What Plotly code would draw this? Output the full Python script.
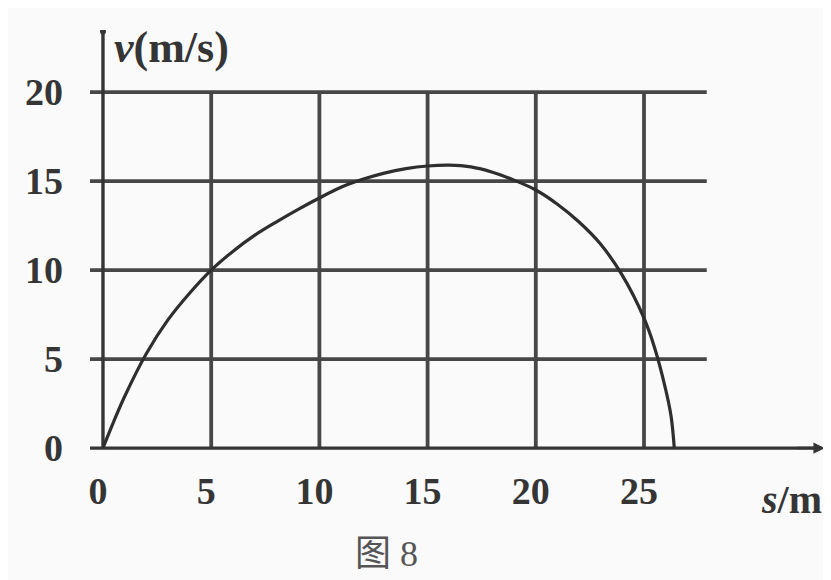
import plotly.graph_objects as go

# Data
s_vals = [0, 0.5, 1, 2, 3, 4, 5, 6, 7, 8, 9, 10, 11, 12, 13, 14, 15, 16, 17, 18, 19, 20,
          21, 22, 23, 24, 25, 25.5, 26, 26.25, 26.4]
v_vals = [0, 1.5, 2.9, 5.3, 7.2, 8.7, 10.0, 11.05, 11.95, 12.7, 13.4, 14.05, 14.65, 15.1,
          15.45, 15.7, 15.85, 15.9, 15.8, 15.5, 15.05, 14.5, 13.7, 12.7, 11.45, 9.7, 7.3,
          5.6, 3.3, 1.8, 0]
x_ticks = [0, 5, 10, 15, 20, 25]
y_ticks = [0, 5, 10, 15, 20]
x_tick_text = ["0", "5", "10", "15", "20", "25"]
y_tick_text = ["0", "5", "10", "15", "20"]

INK = "#353535"
GRID = "#474747"
BG = "#fafafa"
FONT = "Liberation Serif"

fig = go.Figure()
fig.add_trace(go.Scatter(x=s_vals, y=v_vals, mode="lines",
                         line=dict(color="#2e2e2e", width=3.2, shape="spline", smoothing=1.0),
                         hoverinfo="skip", showlegend=False))

shapes = []
for yv in y_ticks[1:]:
    shapes.append(dict(type="line", xref="x", yref="y", x0=-0.6, x1=27.9, y0=yv, y1=yv,
                       line=dict(color=GRID, width=3.8), layer="below"))
for xv in x_ticks[1:]:
    shapes.append(dict(type="line", xref="x", yref="y", x0=xv, x1=xv, y0=0, y1=20,
                       line=dict(color=GRID, width=3.8), layer="below"))
shapes.append(dict(type="line", xref="x", yref="y", x0=0, x1=0, y0=0, y1=23.4,
                   line=dict(color=INK, width=3.4), layer="below"))
shapes.append(dict(type="line", xref="x", yref="y", x0=-0.6, x1=33.0, y0=0, y1=0,
                   line=dict(color=INK, width=3.4), layer="below"))

annotations = [
    dict(x=33.35, y=0, ax=32.0, ay=0, xref="x", yref="y", axref="x", ayref="y",
         showarrow=True, arrowhead=2, arrowsize=0.9, arrowwidth=2.5, arrowcolor=INK, text=""),
    dict(x=0.4, y=22.5, xref="x", yref="y", xanchor="left", yanchor="middle",
         text="<i>v</i>(m/s)", showarrow=False,
         font=dict(family=FONT, size=44, color=INK, weight="bold")),
    dict(x=0.997, y=-0.093, xref="paper", yref="paper", xanchor="right", yanchor="middle",
         text="<i>s</i>/m", showarrow=False,
         font=dict(family=FONT, size=40, color=INK, weight="bold")),
    dict(x=0.4035, y=-0.218, xref="paper", yref="paper", xanchor="center", yanchor="middle",
         text="图 8", showarrow=False,
         font=dict(family="Liberation Serif, Noto Sans CJK SC", size=36, color="#555555")),
]

fig.add_trace(go.Scatter(x=[0], y=[23.4], mode="markers", marker=dict(color=INK, size=6),
                         hoverinfo="skip", showlegend=False))

fig.update_layout(
    width=831, height=580,
    margin=dict(l=82, r=13, t=22, b=128),
    paper_bgcolor=BG, plot_bgcolor=BG,
    shapes=shapes, annotations=annotations,
    xaxis=dict(range=[-0.6, 33.41], tickvals=x_ticks, ticktext=x_tick_text,
               showgrid=False, zeroline=False, showline=False, ticks="",
               ticklabelstandoff=5, ticklabelshift=-5,
               tickfont=dict(family=FONT, size=38, color=INK, weight="bold")),
    yaxis=dict(range=[-0.67, 23.49], tickvals=y_ticks, ticktext=y_tick_text,
               showgrid=False, zeroline=False, showline=False, ticks="",
               ticklabelstandoff=26,
               tickfont=dict(family=FONT, size=38, color=INK, weight="bold")),
)

fig.write_html("out.html")
